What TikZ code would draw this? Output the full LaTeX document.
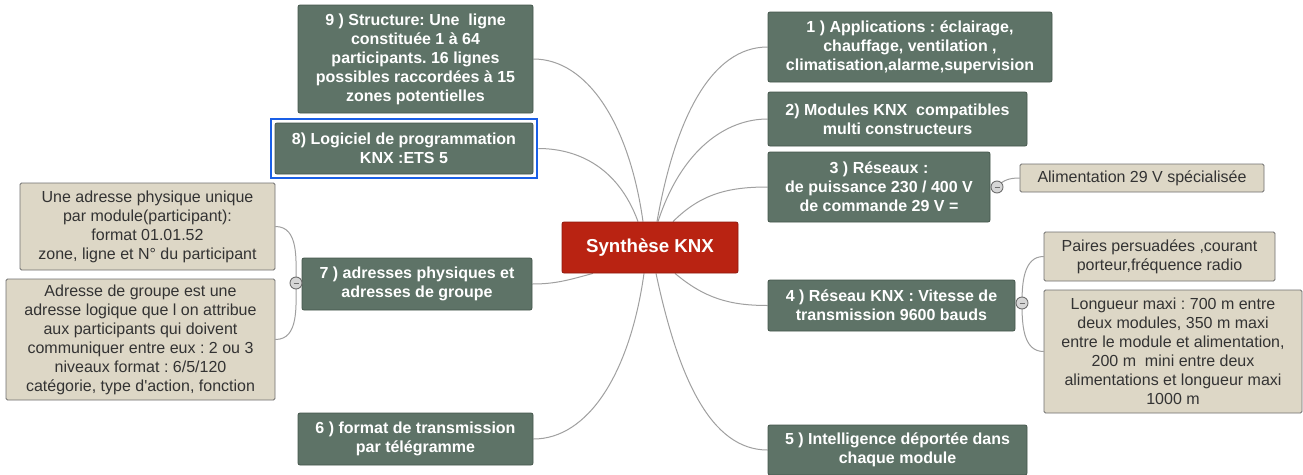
\documentclass[tikz,border=0pt]{standalone}
\usepackage{fontspec}
\setmainfont{Liberation Sans}
\frenchspacing
\definecolor{kgreen}{HTML}{5E7367}
\definecolor{kgreenD}{HTML}{44564B}
\definecolor{ktan}{HTML}{DDD7C6}
\definecolor{ktanD}{HTML}{707070}
\definecolor{ktext}{HTML}{333333}
\definecolor{kred}{HTML}{B92312}
\definecolor{kredD}{HTML}{8E1A0E}
\definecolor{klink}{HTML}{A0A0A0}
\definecolor{kblue}{HTML}{1A5FE6}
\definecolor{ktog}{HTML}{D6D6D6}
\definecolor{ktogD}{HTML}{6E6E6E}
\pgfdeclarelayer{bg}
\pgfsetlayers{bg,main}
\begin{document}
\begin{tikzpicture}[x=1pt,y=-1pt,
  mainbox/.style={draw=kgreenD, fill=kgreen, text=white, font=\fontsize{16}{19}\selectfont\bfseries, align=center, rounded corners=2pt, inner sep=0pt, line width=0.8pt},
  subbox/.style={draw=ktanD, fill=ktan, text=ktext, font=\fontsize{16}{19}\selectfont, align=center, rounded corners=1.5pt, inner sep=0pt, line width=0.8pt},
  centerbox/.style={draw=kredD, fill=kred, text=white, font=\fontsize{18.7}{22}\selectfont\bfseries, align=center, rounded corners=2pt, inner sep=0pt, line width=0.8pt},
  link/.style={draw=klink, line width=1pt},
  mmcurve/.style={out looseness=1.3, in looseness=0.7},
  tog/.style={circle, draw=ktogD, fill=ktog, minimum size=12pt, inner sep=0pt, line width=0.9pt},
  togbar/.style={draw=ktogD, line width=1pt}]
\useasboundingbox (0,0) rectangle (1303,474);

% central
\node[centerbox, minimum width=176pt, minimum height=51pt] (c) at (650,247.5) {Synthèse KNX};

% left branches
\node[mainbox, minimum width=235pt, minimum height=108pt] (n9) at (415.5,59) {9 ) Structure: Une~ ligne\\constituée 1 à 64\\participants. 16 lignes\\possibles raccordées à 15\\zones potentielles};
\node[mainbox, minimum width=258pt, minimum height=51pt] (n8) at (404,148.5) {8) Logiciel de programmation\\KNX :ETS 5};
\draw[kblue, line width=2pt] ([xshift=-4pt,yshift=4pt]n8.north west) rectangle ([xshift=4pt,yshift=-4pt]n8.south east);
\node[mainbox, minimum width=230pt, minimum height=52pt] (n7) at (417,284) {7 ) adresses physiques et\\adresses de groupe};
\node[mainbox, minimum width=235pt, minimum height=52pt] (n6) at (415.5,439) {6 ) format de transmission\\par télégramme};

\node[subbox, minimum width=255pt, minimum height=87pt] (pa) at (147.5,226.5) {Une adresse physique unique\\par module(participant):\\format 01.01.52\\zone, ligne et N° du participant};
\node[subbox, minimum width=269pt, minimum height=121pt] (ga) at (140.5,339.5) {Adresse de groupe est une\\adresse logique que l on attribue\\aux participants qui doivent\\communiquer entre eux : 2 ou 3\\niveaux format : 6/5/120\\catégorie, type d\textquotesingle action, fonction};

% right branches
\node[mainbox, minimum width=284pt, minimum height=70pt] (n1) at (910,47) {1 ) Applications : éclairage,\\chauffage, ventilation ,\\climatisation,alarme,supervision};
\node[mainbox, minimum width=259pt, minimum height=54pt] (n2) at (897.5,119) {2) Modules KNX~ compatibles\\multi constructeurs};
\node[mainbox, minimum width=222pt, minimum height=70pt] (n3) at (879,187) {3 ) Réseaux :\\de puissance 230 / 400 V\\de commande 29 V =};
\node[mainbox, minimum width=247pt, minimum height=51pt] (n4) at (891.5,305.5) {4 ) Réseau KNX : Vitesse de\\transmission 9600 bauds};
\node[mainbox, minimum width=259pt, minimum height=50pt] (n5) at (897.5,450) {5 ) Intelligence déportée dans\\chaque module};

\node[subbox, minimum width=244pt, minimum height=28pt] (al) at (1142,178) {Alimentation 29 V spécialisée};
\node[subbox, minimum width=231pt, minimum height=49pt] (pr) at (1159.5,256.5) {Paires persuadées ,courant\\porteur,fréquence radio};
\node[subbox, minimum width=258pt, minimum height=123pt] (lg) at (1173,351.5) {Longueur maxi : 700 m entre\\deux modules, 350 m maxi\\entre le module et alimentation,\\200 m~ mini entre deux\\alimentations et longueur maxi\\1000 m};

% toggles
\node[tog] (t7) at (296,283) {};
\node[tog] (t3) at (997,187) {};
\node[tog] (t4) at (1022,303) {};
\foreach \t in {t7,t3,t4}{
  \draw[togbar] ([xshift=-2.5pt]\t.center) -- ([xshift=2.5pt]\t.center);
}

\begin{pgfonlayer}{bg}
  \fill[white] (0,0) rectangle (1303,474);
  \draw[link] ([xshift=-7pt]c.north) to[out=98,in=0,mmcurve] (n9.east);
  \draw[link] ([xshift=-12pt]c.north) to[out=110,in=0,mmcurve] ([xshift=5pt]n8.east);
  \draw[link] ([xshift=7pt]c.north) to[out=80,in=180,mmcurve] (n1.west);
  \draw[link] ([xshift=8pt]c.north) to[out=72,in=180,mmcurve] (n2.west);
  \draw[link] ([xshift=23pt]c.north) to[out=45,in=180] (n3.west);
  \draw[link] ([xshift=-57pt]c.south) to[out=195,in=0] (n7.east);
  \draw[link] ([xshift=-6pt]c.south) to[out=262,in=0,mmcurve] (n6.east);
  \draw[link] ([xshift=6pt]c.south) to[out=-78,in=180,mmcurve] (n5.west);
  \draw[link] ([xshift=25pt]c.south) to[out=-40,in=180] (n4.west);
  % sub links
  \draw[link] (t7.center) to[out=90,in=0] (pa.east);
  \draw[link] (t7.center) to[out=-90,in=0] (ga.east);
  \draw[link] (t3.center) to[out=50,in=180] (al.west);
  \draw[link] (t4.center) to[out=90,in=180] (pr.west);
  \draw[link] (t4.center) to[out=-90,in=180] (lg.west);
\end{pgfonlayer}
\end{tikzpicture}
\end{document}
